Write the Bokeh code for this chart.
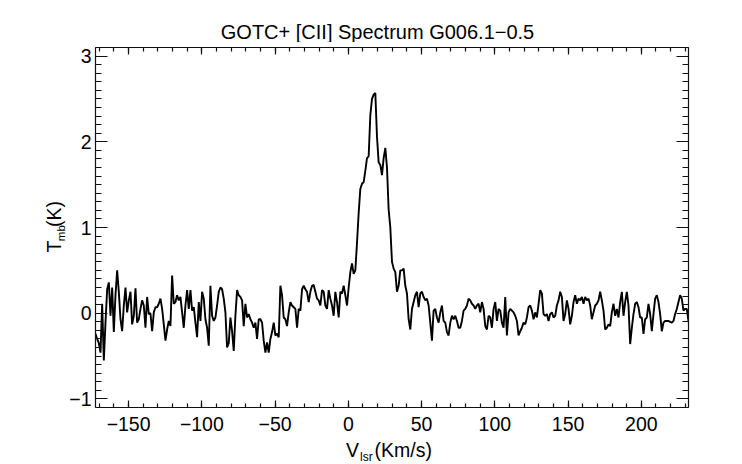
import numpy as np
from bokeh.plotting import figure
from bokeh.layouts import column, row
from bokeh.models import (Range1d, LinearAxis, SingleIntervalTicker, Label,
                          CustomJSTickFormatter, ColumnDataSource)
from bokeh.embed import file_html
from bokeh.resources import INLINE

# ---------------- data ----------------
title_text = "GOTC+ [CII] Spectrum G006.1\u22120.5"
x_label_main = "V"
x_label_sub = "lsr"
x_label_unit = "(Km/s)"
y_label_main = "T"
y_label_sub = "mb"
y_label_unit = "(K)"

# spectral axis (channel 0 velocity and channel width, km/s)
v_start = -172.6
v_step = 1.137

tmb = [
    # -172.6 ... -72.6
    -0.24, -0.30, -0.35, -0.46, 0.11, -0.55, -0.11, 0.28, 0.36, -0.03,
    0.30, -0.22, 0.21, 0.50, 0.25, -0.07, -0.21, 0.09, 0.30, 0.01,
    0.15, 0.25, -0.13, -0.03, 0.29, -0.11, -0.07, 0.05, 0.15, 0.09,
    -0.17, 0.19, -0.01, 0.00, -0.21, 0.01, 0.07, 0.07, 0.11, 0.17,
    0.05, -0.13, -0.32, -0.19, -0.09, -0.15, 0.44, 0.11, 0.13, 0.21,
    0.15, 0.19, 0.01, -0.17, 0.09, 0.27, 0.05, 0.27, 0.03, 0.07,
    -0.11, -0.28, 0.13, -0.09, 0.25, 0.17, -0.07, -0.17, -0.38, 0.32,
    -0.03, -0.09, -0.05, 0.09, 0.25, 0.30, 0.28, 0.17, 0.01, -0.40,
    -0.35, -0.05, -0.21, -0.44, -0.03, 0.27, 0.21, 0.19, 0.15,
    # -71.4 ... 4.8
    -0.15, 0.11, -0.05, -0.01, -0.07, -0.11, -0.17, -0.11, -0.30, -0.07,
    -0.07, -0.11, -0.32, -0.46, -0.34, -0.46, -0.30, -0.22, -0.11, -0.26,
    -0.24, -0.28, 0.32, 0.21, -0.05, -0.07, -0.15, 0.01, 0.13, 0.09,
    0.07, 0.05, -0.17, 0.05, 0.03, 0.28, 0.32, 0.28, 0.25, 0.13,
    0.25, 0.32, 0.33, 0.25, 0.17, 0.15, 0.09, 0.27, 0.25, 0.09,
    0.05, 0.27, 0.17, 0.09, -0.03, 0.25, 0.13, -0.05, 0.25, 0.23,
    0.32, 0.21, 0.09, 0.30, 0.48, 0.58, 0.46, 0.50,
    # line
    0.82, 1.17, 1.45, 1.51, 1.53, 1.66, 1.81, 1.83, 2.31, 2.50,
    2.55, 2.57, 2.06, 1.76, 1.73, 1.61, 1.81, 1.93, 1.70, 1.21,
    1.00,
    # 30.3 ... 130.3
    0.60, 0.52, 0.48, 0.25, 0.32, 0.50, 0.50, 0.52, 0.32, 0.23,
    -0.07, -0.19, 0.05, 0.13, 0.21, 0.25, 0.07, 0.23, 0.25, 0.19,
    0.15, 0.17, 0.09, -0.11, -0.32, 0.03, 0.05, -0.05, -0.11, 0.01,
    0.09, -0.09, -0.11, -0.22, -0.26, -0.11, -0.03, -0.07, -0.03, -0.09,
    -0.17, -0.17, -0.09, 0.03, 0.05, 0.09, 0.17, 0.15, 0.11, 0.09,
    0.05, 0.09, 0.11, 0.01, 0.13, 0.05, -0.15, -0.19, -0.03, -0.05,
    -0.17, 0.05, 0.13, -0.09, 0.05, 0.03, -0.11, -0.17, 0.19, -0.26,
    0.01, 0.05, 0.03, 0.01, -0.03, -0.09, -0.26, -0.21, -0.17, -0.11,
    -0.13, -0.05, 0.07, 0.09, 0.03, -0.07, 0.01, -0.05, 0.11,
    # 131.4 ... 232.2
    0.27, 0.23, -0.01, -0.03, -0.01, -0.09, -0.01, 0.01, -0.05, -0.03,
    0.09, 0.15, 0.25, 0.19, -0.09, -0.01, 0.15, 0.05, -0.13, -0.03,
    0.13, 0.21, 0.11, 0.17, 0.15, 0.19, 0.11, 0.19, 0.15, 0.17,
    0.09, -0.07, 0.01, 0.09, 0.11, 0.15, 0.25, 0.15, 0.03, -0.19,
    -0.17, -0.13, -0.15, 0.01, 0.11, -0.03, 0.05, -0.05, 0.13, 0.25,
    -0.03, 0.13, 0.25, 0.09, -0.36, -0.17, -0.01, 0.11, 0.13, 0.07,
    -0.05, -0.05, -0.24, -0.07, -0.05, 0.11, -0.01, -0.21, -0.01, 0.17,
    0.21, 0.13, -0.01, -0.21, -0.11, -0.09, -0.09, -0.09, -0.10, -0.11,
    -0.09, -0.01, 0.05, 0.13, 0.21, 0.17, 0.03, 0.05, 0.05, -0.09,
]

x_ticks_labels = {-150: "\u2212150", -100: "\u2212100", -50: "\u221250"}
y_ticks_labels = {-1: "\u22121"}

velocity = [v_start + i * v_step for i in range(len(tmb))]
source = ColumnDataSource(dict(velocity=velocity, tmb=tmb))

FONT = "Liberation Sans"
FS = "19.5px"

# ---------------- main plot ----------------
p = figure(width=676, height=396, output_backend="svg", toolbar_location=None,
           x_range=Range1d(-172.6, 232.2), y_range=Range1d(-1.10, 3.10),
           x_axis_type=None, y_axis_type=None,
           min_border_left=28, min_border_right=54,
           min_border_top=5, min_border_bottom=31)
p.outline_line_color = None
p.background_fill_color = "white"
p.border_fill_color = "white"


def make_axis(interval, nminor, major_len, minor_len, labels, overrides=None, standoff=6):
    ax = LinearAxis(ticker=SingleIntervalTicker(interval=interval, num_minor_ticks=nminor))
    ax.major_tick_in = major_len
    ax.major_tick_out = 0
    ax.minor_tick_in = minor_len
    ax.minor_tick_out = 0
    for attr in ("axis_line", "major_tick_line", "minor_tick_line"):
        setattr(ax, attr + "_color", "#111111")
        setattr(ax, attr + "_width", 1.2)
    ax.major_label_text_font = FONT
    ax.major_label_text_color = "black"
    if labels:
        ax.major_label_text_font_size = FS
        ax.major_label_standoff = standoff
        ax.major_label_overrides = overrides or {}
    else:
        ax.formatter = CustomJSTickFormatter(code="return ''")
        ax.major_label_text_font_size = "0px"
        ax.major_label_standoff = 0
    return ax


p.add_layout(make_axis(50, 5, 7, 4, True, x_ticks_labels, 9), "below")
p.add_layout(make_axis(50, 5, 7, 4, False), "above")
p.add_layout(make_axis(1, 10, 12, 6, True, y_ticks_labels, 4), "left")
p.add_layout(make_axis(1, 10, 12, 6, False), "right")

p.line("velocity", "tmb", source=source, line_color="black", line_width=1.9)


# ---------------- text panels ----------------
def text_panel(w, h):
    f = figure(width=w, height=h, output_backend="svg", toolbar_location=None,
               x_range=Range1d(0, w), y_range=Range1d(0, h),
               x_axis_type=None, y_axis_type=None,
               min_border=0, min_border_left=0, min_border_right=0,
               min_border_top=0, min_border_bottom=0)
    f.outline_line_color = None
    f.grid.visible = False
    f.background_fill_color = "white"
    f.border_fill_color = "white"
    return f


def lab(f, x, y, text, size=FS, align="left", angle=0.0):
    f.add_layout(Label(x=x, y=y, text=text, text_font=FONT, text_font_size=size,
                       text_color="black", text_align=align,
                       text_baseline="alphabetic", angle=angle))


# title panel: screen y 0..42
title_fig = text_panel(742, 42)
lab(title_fig, 377, 10.7, title_text, size="20px", align="center")

# y-label panel: screen x 0..66, y 42..438
ylab_fig = text_panel(66, 396)
lab(ylab_fig, 53.2, 170.5, y_label_main, angle=np.pi / 2)
lab(ylab_fig, 60.0, 183.0, y_label_sub, size="11.5px", angle=np.pi / 2)
lab(ylab_fig, 53.2, 198.5, y_label_unit, angle=np.pi / 2)

# x-label panel: screen y 438..464
xlab_fig = text_panel(742, 26)
lab(xlab_fig, 345.5, 14.3, x_label_main)
lab(xlab_fig, 359.5, 7.2, x_label_sub, size="12px")
lab(xlab_fig, 374.0, 14.3, x_label_unit)

layout = column(title_fig, row(ylab_fig, p, spacing=0), xlab_fig, spacing=0)

open("out.html", "w").write(file_html(layout, INLINE))
